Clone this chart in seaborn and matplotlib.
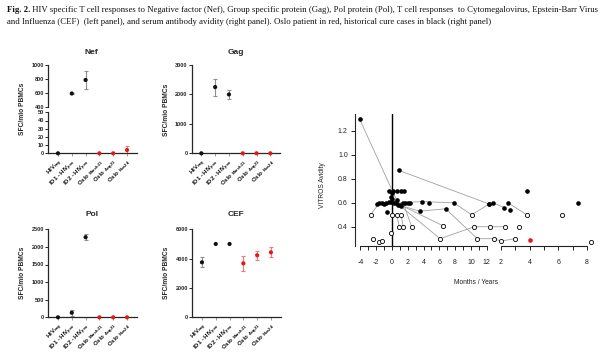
import numpy as np
import pandas as pd
import matplotlib
matplotlib.use("Agg")
import matplotlib.pyplot as plt
import seaborn as sns

# left panels: ELISpot, SFC/mio PBMCs
groups = ["HIV$_{neg}$", "ID1 - HIV$_{pos}$", "ID2 - HIV$_{pos}$",
          "Oslo $_{March21}$", "Oslo $_{Aug21}$", "Oslo $_{Nov24}$"]
is_oslo = [False, False, False, True, True, True]

nef = [0, 590, 785, 0, 0, 4]
nef_err = [0, 10, 135, 0, 0, 5]
gag = [0, 2250, 2000, 0, 0, 0]
gag_err = [0, 290, 140, 0, 0, 0]
pol = [0, 130, 2275, 0, 0, 0]
pol_err = [0, 90, 80, 0, 0, 0]
cef = [3750, 5000, 5000, 3680, 4230, 4430]
cef_err = [340, 0, 0, 500, 320, 340]

# right panel: avidity tracks (scale m = months, y = years)
track = ["A", "A", "B", "B", "C", "C",
         "D", "D", "D", "D", "D",
         "E", "E", "E", "E", "E",
         "F", "F", "G", "G",
         "I", "I", "I", "I", "I", "I", "I",
         "J", "J", "K", "K", "M1", "M1", "M2", "M2",
         "s1", "s2", "s3", "s4", "s5", "s6", "s7", "s8", "s9", "s10", "s11",
         "s12", "s13", "s14", "s15", "s16", "s17", "s18", "s19", "s20", "s21",
         "s22", "s23", "s24", "s25", "s26", "s27", "s28", "s29", "s30", "s31", "s32"]
time = [-4.1, 0.6, 0.9, 12.3, -2.7, -1.6,
        0.0, 6.1, 10.4, 12.4, 2.26,
        -1.9, 3.8, 7.8, 10.1, 12.3,
        12.8, 2.23, 2.49, 3.8,
        1.0, 3.5, 6.8, 10.8, 12.9, 2.0, 2.96,
        1.4, 2.5, 0.5, 6.4, 0.6, 0.93, 1.14, 1.43,
        -1.3, -1.0, -0.7, -0.4, -0.1, 0.2, 0.8, 1.1, 1.7, 2.0, 2.3,
        4.7, -0.34, 0.16, 0.67, 1.1, 1.52, -0.04, -0.6, 0.04, -0.17,
        -2.4, -1.7, -1.2, 2.65, 3.82, 7.38, 3.28, 6.3, 8.27, -0.1, 4.03]
scale = ["m", "m", "m", "m", "m", "m",
         "m", "m", "m", "m", "y",
         "m", "m", "m", "m", "m",
         "m", "y", "y", "y",
         "m", "m", "m", "m", "m", "y", "y",
         "m", "m", "m", "m", "m", "m", "m", "m",
         "m", "m", "m", "m", "m", "m", "m", "m", "m", "m", "m",
         "m", "m", "m", "m", "m", "m", "m", "m", "m", "m",
         "m", "m", "m", "y", "y", "y", "y", "y", "y", "m", "y"]
avidity = [1.30, 0.62, 0.87, 0.59, 0.50, 0.60,
           0.63, 0.30, 0.40, 0.40, 0.40,
           0.59, 0.61, 0.60, 0.50, 0.59,
           0.60, 0.56, 0.60, 0.50,
           0.58, 0.53, 0.55, 0.30, 0.30, 0.28, 0.30,
           0.60, 0.40, 0.60, 0.41, 0.50, 0.40, 0.50, 0.40,
           0.60, 0.59, 0.60, 0.61, 0.61, 0.60, 0.58, 0.57, 0.60, 0.60, 0.60,
           0.60, 0.70, 0.70, 0.70, 0.70, 0.70, 0.68, 0.52, 0.50, 0.35,
           0.295, 0.275, 0.283, 0.54, 0.70, 0.60, 0.40, 0.50, 0.27, 0.65, 0.29]
kind = ["f", "f", "f", "f", "o", "f",
        "f", "o", "o", "o", "o",
        "f", "f", "f", "o", "f",
        "f", "f", "f", "o",
        "f", "f", "f", "o", "o", "o", "o",
        "f", "o", "f", "o", "o", "o", "o", "o",
        "f", "f", "f", "f", "f", "f", "f", "f", "f", "f", "f",
        "f", "f", "f", "f", "f", "f", "f", "f", "o", "o",
        "o", "o", "o", "f", "f", "f", "o", "o", "o", "f", "r"]

month_ticks = list(range(-4, 13))
year_ticks = list(range(2, 9))
YEAR0, YEAR_W = 13.8, 1.81

BLACK = "#111111"
RED = "#e8161b"

sns.set_style("ticks")
plt.rcParams["font.family"] = ["Liberation Sans", "DejaVu Sans"]
plt.rcParams["mathtext.fontset"] = "custom"
plt.rcParams["mathtext.rm"] = "Liberation Sans:bold"
plt.rcParams["mathtext.it"] = "Liberation Sans:bold"
plt.rcParams["mathtext.bf"] = "Liberation Sans:bold"
plt.rcParams["mathtext.default"] = "rm"

fig = plt.figure(figsize=(6, 3.57), dpi=100)
W, H = 600, 357


def add_ax(x0, x1, y_top, y_bot):
    return fig.add_axes([x0 / W, 1 - y_bot / H, (x1 - x0) / W, (y_bot - y_top) / H])


def draw(ax, vals, errs, clip=False):
    df = pd.DataFrame({"pos": range(6), "value": vals, "err": errs, "oslo": is_oslo})
    for oslo, col in [(False, "#8f8f8f"), (True, "#f07a7a")]:
        sub = df[(df.oslo == oslo) & (df.err > 0)]
        ax.errorbar(sub.pos, sub.value, yerr=sub.err, fmt="none", ecolor=col,
                    elinewidth=0.8, capsize=1.5, capthick=0.8, zorder=2)
    sns.scatterplot(data=df, x="pos", y="value", hue="oslo",
                    palette={False: BLACK, True: RED}, s=9, linewidth=0,
                    legend=False, ax=ax, zorder=3, clip_on=clip)
    ax.set_xlim(-0.7, 5.7)
    ax.set_xlabel("")
    ax.set_ylabel("")
    for s in ["top", "right"]:
        ax.spines[s].set_visible(False)
    for s in ["left", "bottom"]:
        ax.spines[s].set_linewidth(0.9)
    ax.tick_params(length=2, width=0.7, pad=1, labelsize=4)
    for t in ax.get_yticklabels():
        t.set_fontweight("bold")


def xlabels(ax):
    ax.set_xticks(range(6))
    ax.set_xticklabels(groups, rotation=45, ha="right", rotation_mode="anchor",
                       fontsize=4.3, fontweight="bold")
    ax.tick_params(axis="x", colors="#999999", labelcolor=BLACK)


def title(x, y, txt):
    fig.text(x / W, 1 - y / H, txt, ha="center", va="center", fontsize=6,
             fontweight="bold")


def ylab(x, y):
    fig.text(x / W, 1 - y / H, "SFC/mio PBMCs", rotation=90, ha="center",
             va="center", fontsize=4.8, fontweight="bold")


# Nef, broken axis
ax_up = add_ax(48.3, 136.7, 65, 106.7)
draw(ax_up, nef, nef_err, clip=True)
ax_up.set_ylim(400, 1000)
ax_up.set_yticks([400, 600, 800, 1000])
ax_up.spines["bottom"].set_visible(False)
ax_up.set_xticks([])
ax_lo = add_ax(48.3, 136.7, 112.3, 153.3)
draw(ax_lo, nef, nef_err)
ax_lo.set_ylim(0, 50)
ax_lo.set_yticks(range(0, 51, 10))
xlabels(ax_lo)
title(91, 52, "Nef")
ylab(22, 109)

# Gag
ax_g = add_ax(191.7, 280, 65, 153.3)
draw(ax_g, gag, gag_err)
ax_g.set_ylim(0, 3000)
ax_g.set_yticks([0, 1000, 2000, 3000])
xlabels(ax_g)
title(236, 52, "Gag")
ylab(167, 110)

# Pol
ax_p = add_ax(48.3, 136.7, 229.3, 317.3)
draw(ax_p, pol, pol_err)
ax_p.set_ylim(0, 2500)
ax_p.set_yticks(range(0, 2501, 500))
xlabels(ax_p)
title(92, 215, "Pol")
ylab(22, 273)

# CEF
ax_c = add_ax(192.3, 280.6, 229.3, 317.3)
draw(ax_c, cef, cef_err)
ax_c.set_ylim(0, 6000)
ax_c.set_yticks([0, 2000, 4000, 6000])
xlabels(ax_c)
title(236, 215, "CEF")
ylab(167, 273)

# right panel: avidity
df_r = pd.DataFrame({"track": track, "time": time, "scale": scale,
                     "avidity": avidity, "kind": kind})
df_r["pos"] = np.where(df_r.scale == "m", df_r.time,
                       YEAR0 + (df_r.time - 2) * YEAR_W)

ax_r = add_ax(355, 597, 114, 246)
ax_r.axvline(0, color="black", lw=1.0, zorder=1)
sns.lineplot(data=df_r, x="pos", y="avidity", units="track", estimator=None,
             sort=False, color="#a0a0a0", lw=0.6, ax=ax_r, zorder=2)
sns.scatterplot(data=df_r[df_r.kind == "o"], x="pos", y="avidity", s=9,
                facecolor="white", edgecolor="black", linewidth=0.6, ax=ax_r,
                zorder=3)
sns.scatterplot(data=df_r[df_r.kind == "f"], x="pos", y="avidity", s=11,
                color="black", linewidth=0, ax=ax_r, zorder=4)
sns.scatterplot(data=df_r[df_r.kind == "r"], x="pos", y="avidity", s=11,
                color=RED, linewidth=0, ax=ax_r, zorder=4)

ax_r.set_xlim(-4.68, 25.95)
ax_r.set_ylim(0.239, 1.342)
ax_r.set_xlabel("")
ax_r.set_ylabel("")
for s in ["top", "right", "bottom"]:
    ax_r.spines[s].set_visible(False)
ax_r.spines["left"].set_linewidth(0.8)

year_pos = [YEAR0 + (y - 2) * YEAR_W for y in year_ticks]
ax_r.set_xticks(month_ticks + year_pos)
ax_r.set_xticklabels([str(m) if m % 2 == 0 else "" for m in month_ticks] +
                     [str(y) if y % 2 == 0 else "" for y in year_ticks])
ax_r.set_yticks([0.4, 0.6, 0.8, 1.0, 1.2])
ax_r.set_yticklabels(["0.4", "0.6", "0.8", "1.0", "1.2"])
ax_r.tick_params(length=3.2, width=0.7, labelsize=5, colors="#222222", pad=2)
ax_r.tick_params(axis="x", pad=6)
trans = ax_r.get_xaxis_transform()
ax_r.plot([month_ticks[0], month_ticks[-1]], [0, 0], color="#222222", lw=0.8,
          transform=trans, clip_on=False)
ax_r.plot([year_pos[0], year_pos[-1]], [0, 0], color="#222222", lw=0.8,
          transform=trans, clip_on=False)

fig.text(322 / W, 1 - 185 / H, "VITROS Avidity", rotation=90, ha="center",
         va="center", fontsize=4.8, color="#222222")
fig.text(476 / W, 1 - 282 / H, "Months / Years", ha="center", va="center",
         fontsize=4.8, color="#222222")

# caption
cap = dict(family=["Liberation Serif", "DejaVu Serif"], fontsize=6.35, color="#111111")
fig_lbl = fig.text(7 / W, 1 - 12 / H, "Fig. 2.", fontweight="bold", **cap)
ax_r.annotate(" HIV specific T cell responses to Negative factor (Nef), Group specific "
              "protein (Gag), Pol protein (Pol), T cell responses  to Cytomegalovirus, "
              "Epstein-Barr Virus", xy=(1, 0), xycoords=fig_lbl, va="bottom",
              annotation_clip=False, **cap)
fig.text(7 / W, 1 - 24 / H, "and Influenza (CEF)  (left panel), and serum antibody "
         "avidity (right panel). Oslo patient in red, historical cure cases in black "
         "(right panel)", **cap)

fig.savefig("out.png", dpi=100)
